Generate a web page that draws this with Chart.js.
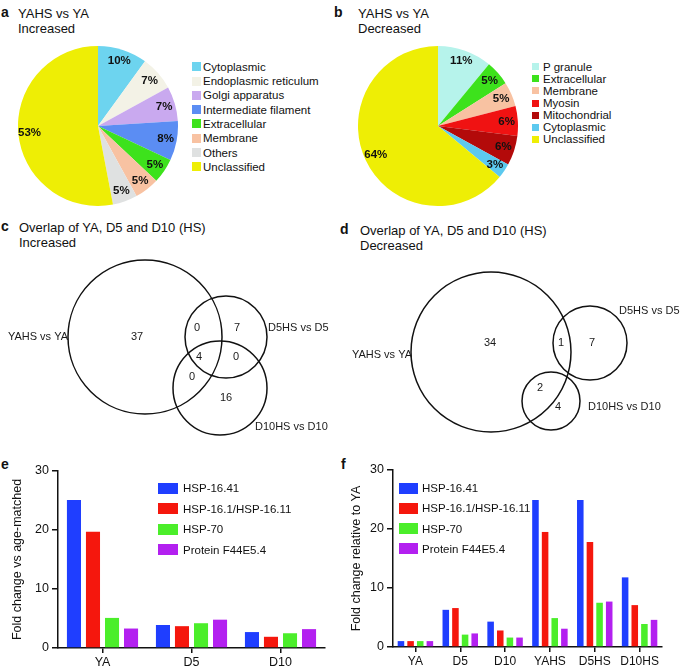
<!DOCTYPE html>
<html>
<head>
<meta charset="utf-8">
<script src="https://cdn.jsdelivr.net/npm/chart.js@4.4.0/dist/chart.umd.min.js"></script>
<style>
  body { margin: 0; width: 685px; height: 669px; position: relative; background: #fff; overflow: hidden;
         font-family: "Liberation Sans", Arial, sans-serif; color: #111; }
  canvas { position: absolute; }
  .letter { position: absolute; font-weight: bold; font-size: 14px; line-height: 15px; }
  .title { position: absolute; font-size: 13px; line-height: 14.5px; white-space: nowrap; }
  .row { position: absolute; white-space: nowrap; font-size: 11.5px; }
  .sw { position: absolute; }
</style>
</head>
<body>

<div class="letter" style="left:1px;top:5px">a</div>
<div class="title" style="left:18px;top:7px">YAHS vs YA<br>Increased</div>
<div class="letter" style="left:334px;top:5px">b</div>
<div class="title" style="left:358px;top:7px">YAHS vs YA<br>Decreased</div>
<div class="letter" style="left:1px;top:219px">c</div>
<div class="title" style="left:19px;top:221px">Overlap of YA, D5 and D10 (HS)<br>Increased</div>
<div class="letter" style="left:340px;top:222px">d</div>
<div class="title" style="left:360px;top:224px">Overlap of YA, D5 and D10 (HS)<br>Decreased</div>
<div class="letter" style="left:1px;top:457px">e</div>
<div class="letter" style="left:341px;top:457px">f</div>

<canvas id="pieA" width="160" height="160" style="left:18px;top:46px"></canvas>
<canvas id="pieB" width="160" height="160" style="left:358px;top:46px"></canvas>
<canvas id="vennC" width="340" height="190" style="left:0px;top:250px"></canvas>
<canvas id="vennD" width="345" height="190" style="left:340px;top:250px"></canvas>
<canvas id="barE" width="335" height="229" style="left:0px;top:440px"></canvas>
<canvas id="barF" width="345" height="229" style="left:340px;top:440px"></canvas>

<script>
// ---- data ----
var pieALabels = ['Cytoplasmic', 'Endoplasmic reticulum', 'Golgi apparatus', 'Intermediate filament',
                  'Extracellular', 'Membrane', 'Others', 'Unclassified'];
var pieAValues = [10, 7, 7, 8, 5, 5, 5, 53];

var pieBLabels = ['P granule', 'Extracellular', 'Membrane', 'Myosin', 'Mitochondrial', 'Cytoplasmic', 'Unclassified'];
var pieBValues = [11, 5, 5, 6, 6, 3, 64];

var vennSets = ['YAHS vs YA', 'D5HS vs D5', 'D10HS vs D10'];
// region counts: YA only, YA&D5, D5 only, all three, D5&D10, YA&D10, D10 only
var vennCountsC = [37, 0, 7, 4, 0, 0, 16];
// region counts: YA only, YA&D5, D5 only, YA&D10, D10 only
var vennCountsD = [34, 1, 7, 2, 4];

var barSeries = ['HSP-16.41', 'HSP-16.1/HSP-16.11', 'HSP-70', 'Protein F44E5.4'];

var eCats = ['YA', 'D5', 'D10'];
var eHsp1641 = [25.1, 3.9, 2.7];
var eHsp161 = [19.7, 3.7, 1.9];
var eHsp70 = [5.1, 4.2, 2.5];
var eF44 = [3.3, 4.8, 3.2];

var fCats = ['YA', 'D5', 'D10', 'YAHS', 'D5HS', 'D10HS'];
var fHsp1641 = [1.0, 6.3, 4.3, 24.9, 24.9, 11.8];
var fHsp161 = [1.0, 6.6, 2.8, 19.5, 17.8, 7.1];
var fHsp70 = [1.0, 2.1, 1.6, 4.9, 7.5, 3.9];
var fF44 = [1.0, 2.3, 1.6, 3.1, 7.7, 4.6];

var yTicks = [0, 10, 20, 30];

// ---- styles / layout ----
var pieAColors = ['#6dd4ef', '#f3f2e6', '#c9a9ef', '#5b8df3', '#3de21c', '#f8c2a2', '#dfe1e1', '#eeee05'];
var pieBColors = ['#b6f3eb', '#3de21c', '#f8c2a2', '#f01212', '#b30a0a', '#5cc9ef', '#eeee05'];
var barColors = ['#1f3eff', '#f5170d', '#4bee2a', '#b320f0'];

// venn circles in panel units (x, y, r) and spots for the counts
var vennCirclesC = [{ x: 145, y: 87, r: 77 }, { x: 226, y: 87, r: 41 }, { x: 220, y: 138, r: 47 }];
var vennSpotsC = [[137, 87], [197, 78], [237, 78], [199, 107], [236, 107], [192, 127], [226, 148]];
var vennNamesC = [[68, 87, 'right'], [268, 78, 'left'], [255, 177, 'left']];

var vennCirclesD = [{ x: 151, y: 102, r: 80 }, { x: 250, y: 93, r: 37 }, { x: 211, y: 151, r: 29 }];
var vennSpotsD = [[150, 93], [221, 93], [252, 93], [200, 138], [218, 157]];
var vennNamesD = [[72, 105, 'right'], [279, 61, 'left'], [248, 157, 'left']];

var FONT = '"Liberation Sans", Arial, sans-serif';
Chart.defaults.font.family = FONT;
Chart.defaults.color = '#111';

// html legend, one row per label
function addLegend(labels, colors, x, y0, step, sw, gap, swh) {
    labels.forEach(function (lab, i) {
        var cy = y0 + i * step;
        var s = document.createElement('div');
        s.className = 'sw';
        s.style.cssText = 'left:' + x + 'px;top:' + (cy - swh / 2) + 'px;width:' + sw + 'px;height:' + swh + 'px;background:' + colors[i];
        document.body.appendChild(s);
        var t = document.createElement('div');
        t.className = 'row';
        t.textContent = lab;
        t.style.left = (x + sw + gap) + 'px';
        t.style.top = (cy - 7) + 'px';
        t.style.lineHeight = '14px';
        document.body.appendChild(t);
    });
}

// percent labels inside the pie slices
var pctLabels = {
    id: 'pctLabels',
    afterDatasetsDraw: function (chart) {
        var ctx = chart.ctx;
        var meta = chart.getDatasetMeta(0);
        var vals = chart.data.datasets[0].data;
        ctx.save();
        ctx.font = 'bold 11.5px ' + FONT;
        ctx.fillStyle = '#111';
        ctx.textAlign = 'center';
        ctx.textBaseline = 'middle';
        meta.data.forEach(function (arc, i) {
            var mid = (arc.startAngle + arc.endAngle) / 2;
            var r = arc.outerRadius * 0.86;
            ctx.fillText(vals[i] + '%', arc.x + Math.cos(mid) * r, arc.y + Math.sin(mid) * r);
        });
        ctx.restore();
    }
};

function pie(id, labels, values, colors) {
    new Chart(document.getElementById(id), {
        type: 'pie',
        data: { labels: labels, datasets: [{ data: values, backgroundColor: colors, borderWidth: 0, hoverOffset: 0 }] },
        options: {
            responsive: false, animation: false, events: [],
            layout: { padding: 0 },
            plugins: { legend: { display: false }, tooltip: { enabled: false } }
        },
        plugins: [pctLabels]
    });
}

pie('pieA', pieALabels, pieAValues, pieAColors);
pie('pieB', pieBLabels, pieBValues, pieBColors);
addLegend(pieALabels, pieAColors, 192, 66.7, 14.3, 9, 2, 9);
addLegend(pieBLabels, pieBColors, 532, 66.7, 12.1, 7, 4, 7);

// venn text: counts and set names, placed through the scales
var vennText = {
    id: 'vennText',
    afterDatasetsDraw: function (chart, args, opts) {
        var ctx = chart.ctx, xs = chart.scales.x, ys = chart.scales.y;
        ctx.save();
        ctx.font = '11px ' + FONT;
        ctx.fillStyle = '#1a1a1a';
        ctx.textBaseline = 'middle';
        ctx.textAlign = 'center';
        opts.counts.forEach(function (c, i) {
            ctx.fillText(String(c), xs.getPixelForValue(opts.spots[i][0]), ys.getPixelForValue(opts.spots[i][1]));
        });
        opts.sets.forEach(function (s, i) {
            var n = opts.names[i];
            ctx.textAlign = n[2];
            ctx.fillText(s, xs.getPixelForValue(n[0]), ys.getPixelForValue(n[1]));
        });
        ctx.restore();
    }
};

function venn(id, circles, counts, spots, names, w, h) {
    new Chart(document.getElementById(id), {
        type: 'scatter',
        data: {
            datasets: [{
                data: circles,
                pointRadius: function (c) {
                    var xs = c.chart.scales.x;
                    return Math.abs(xs.getPixelForValue(c.raw.r) - xs.getPixelForValue(0));
                },
                pointBackgroundColor: 'rgba(0,0,0,0)',
                pointBorderColor: '#111',
                pointBorderWidth: 1.5,
                clip: false
            }]
        },
        options: {
            responsive: false, animation: false, events: [],
            layout: { padding: 0 },
            plugins: {
                legend: { display: false }, tooltip: { enabled: false },
                vennText: { counts: counts, spots: spots, names: names, sets: vennSets }
            },
            scales: {
                x: { type: 'linear', display: false, min: 0, max: w },
                y: { type: 'linear', display: false, min: 0, max: h, reverse: true }
            }
        },
        plugins: [vennText]
    });
}

venn('vennC', vennCirclesC, vennCountsC, vennSpotsC, vennNamesC, 340, 190);
venn('vennD', vennCirclesD, vennCountsD, vennSpotsD, vennNamesD, 345, 190);

function bars(id, cats, series, yTitle, opt) {
    new Chart(document.getElementById(id), {
        type: 'bar',
        data: {
            labels: cats,
            datasets: series.map(function (d, i) {
                return {
                    label: barSeries[i], data: d, backgroundColor: barColors[i], borderWidth: 0,
                    categoryPercentage: opt.catPct, barPercentage: opt.barPct
                };
            })
        },
        options: {
            responsive: false, animation: false, events: [],
            layout: { padding: { top: opt.top, right: opt.right, left: 0, bottom: 0 } },
            plugins: { legend: { display: false }, tooltip: { enabled: false } },
            scales: {
                x: {
                    grid: { drawOnChartArea: false, drawTicks: true, tickLength: 5, color: '#111', lineWidth: 1.5, offset: false },
                    border: { display: true, color: '#111', width: 1.5 },
                    ticks: { color: '#111', font: { size: opt.xFont }, padding: 2, maxRotation: 0, autoSkip: false },
                    afterFit: function (s) { s.height = opt.xh; }
                },
                y: {
                    min: 0, max: 30,
                    afterBuildTicks: function (s) { s.ticks = yTicks.map(function (v) { return { value: v }; }); },
                    grid: { drawOnChartArea: false, drawTicks: true, tickLength: 6, color: '#111', lineWidth: 1.5 },
                    border: { display: true, color: '#111', width: 1.5 },
                    ticks: { color: '#111', font: { size: 12.5 }, padding: 3 },
                    title: { display: true, text: yTitle, color: '#111', font: { size: 12.5 }, padding: { top: opt.tpad, bottom: 0 } },
                    afterFit: function (s) { s.width = opt.yw; }
                }
            }
        }
    });
}

bars('barE', eCats, [eHsp1641, eHsp161, eHsp70, eF44], 'Fold change vs age-matched',
     { top: 31, right: 10, xh: 21, yw: 58, tpad: 10, catPct: 0.855, barPct: 0.74, xFont: 12.5 });
bars('barF', fCats, [fHsp1641, fHsp161, fHsp70, fF44], 'Fold change relative to YA',
     { top: 30, right: 23, xh: 22, yw: 53, tpad: 9.5, catPct: 0.86, barPct: 0.68, xFont: 12 });

addLegend(barSeries, barColors, 158, 488, 20.5, 20, 5, 11);
addLegend(barSeries, barColors, 399, 488, 20.3, 19, 4, 11);
</script>
</body>
</html>
